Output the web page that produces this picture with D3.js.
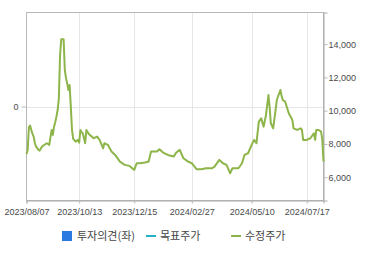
<!DOCTYPE html>
<html>
<head>
<meta charset="utf-8">
<script src="https://cdn.jsdelivr.net/npm/d3@7"></script>
<style>
  body { margin: 0; background: #fff; }
  svg text { font-family: "Liberation Sans", Arial, sans-serif; }
</style>
</head>
<body>
<div id="chart"></div>
<script>
// trading-day index (0 = 2023/08/07) and adjusted price
const dayIdx = [0, 1, 2, 3, 4, 5, 6, 7, 8, 10, 11, 13, 15, 17, 18, 19, 21, 22, 23, 24, 25, 26, 27, 28, 29, 30, 31,
  32, 33, 34, 35, 36, 37, 38, 39, 41, 43, 44, 45, 46, 47, 49, 50, 52, 53, 56, 59, 61, 64, 65, 68, 71, 74, 78,
  82, 86, 90, 92, 95, 99, 102, 104, 109, 111, 114, 118, 123, 125, 128, 131, 135, 138, 142, 146, 150, 155, 157,
  161, 164, 167, 170, 172, 177, 180, 182, 185, 188, 190, 192, 194, 196, 198, 200, 202, 203, 204, 206, 208, 209,
  212, 213, 214, 216, 219, 222, 223, 226, 229, 230, 231, 234, 237, 240, 241, 242, 244, 246, 247, 248];
const price = [7400, 7640, 9000, 9100, 8840, 8600, 8440, 8040, 7840, 7640, 7600, 7840, 7950, 8040, 8000, 7940,
  8840, 8540, 9040, 9300, 9640, 10040, 10700, 13300, 14290, 14290, 14290,
  12440, 11950, 11640, 11240, 11540, 10240, 8840, 8300, 8140, 8240, 8080, 8840, 8700, 8640, 8040, 8840, 8600,
  8540, 8340, 8440, 8240, 7740, 8040, 7940, 7540, 7340, 6940,
  6740, 6680, 6440, 6840, 6840, 6880, 6940, 7540, 7540, 7680, 7480, 7340, 7240, 7480, 7640, 7140, 6940, 6840,
  6480, 6480, 6540, 6540, 6640,
  7040, 6840, 6740, 6240, 6540, 6540, 6840, 7340, 7440, 7940, 8240, 8040, 9340, 9540, 9040, 9740, 10940, 10240,
  9240, 8940, 10040, 10640,
  11240, 10900, 10640, 10540, 9840, 9440, 8940, 8840, 8940, 8840, 8240, 8240, 8340, 8640, 8240, 8840, 8840,
  8740, 8240, 6940];

const tickIdx = [0, 44, 90, 138, 188, 234];
const tickLabels = ["2023/08/07", "2023/10/13", "2023/12/15", "2024/02/27", "2024/05/10", "2024/07/17"];
const priceTicks = [6000, 8000, 10000, 12000, 14000];
const opinionTicks = [0];
const legendItems = ["투자의견(좌)", "목표주가", "수정주가"];
const legendColors = ["#2a7ae2", "#22b1c6", "#8db54a"];

const W = 370, H = 255;
const plotL = 26.5, plotR = 323.5, plotT = 12.5, plotB = 200.5;

const svg = d3.select("#chart").append("svg")
  .attr("width", W)
  .attr("height", H);

const x = d3.scaleLinear().domain([0, 248]).range([plotL, plotR]);
const yR = d3.scaleLinear().domain([4600, 15900]).range([plotB, plotT]);
const yL = d3.scaleLinear().domain([-1, 1]).range([plotB, plotT]);

// grid lines
svg.append("g").selectAll("line")
  .data(tickIdx.slice(1))
  .enter().append("line")
  .attr("x1", d => Math.round(x(d)) + 0.5)
  .attr("x2", d => Math.round(x(d)) + 0.5)
  .attr("y1", plotT)
  .attr("y2", plotB + 3)
  .attr("stroke", "#e6e6e6");

svg.append("g").selectAll("line")
  .data(opinionTicks)
  .enter().append("line")
  .attr("x1", plotL)
  .attr("x2", plotR)
  .attr("y1", d => Math.round(yL(d)) + 0.5)
  .attr("y2", d => Math.round(yL(d)) + 0.5)
  .attr("stroke", "#e6e6e6");

// frame
svg.append("rect")
  .attr("x", plotL).attr("y", plotT)
  .attr("width", plotR - plotL).attr("height", plotB - plotT)
  .attr("fill", "none")
  .attr("stroke", "#b8b8b8");

// left axis
const axL = svg.append("g")
  .attr("transform", `translate(${plotL},0)`)
  .call(d3.axisLeft(yL).tickValues(opinionTicks).tickFormat(d3.format("d")).tickSize(5).tickPadding(3));
axL.select(".domain").remove();

// right axis
const axR = svg.append("g")
  .attr("transform", `translate(${plotR},0)`)
  .call(d3.axisRight(yR).tickValues(priceTicks).tickFormat(d3.format(",")).tickSize(4).tickPadding(1));
axR.select(".domain").attr("stroke", "#aaa");

// bottom axis
const axB = svg.append("g")
  .attr("transform", `translate(0,${plotB})`)
  .call(d3.axisBottom(x).tickValues(tickIdx).tickFormat((d, i) => tickLabels[i]).tickSize(3).tickPadding(5));
axB.select(".domain").attr("stroke", "#aaa");

[axL, axR, axB].forEach(ax => {
  ax.selectAll(".tick line").attr("stroke", "#bbb");
  ax.selectAll("text")
    .attr("fill", "#4a4a4a")
    .style("font-size", "9px")
    .style("font-family", "'Liberation Sans', Arial, sans-serif");
});

// price line
const line = d3.line()
  .x((d, i) => x(dayIdx[i]))
  .y(d => yR(d));

svg.append("path")
  .datum(price)
  .attr("d", line)
  .attr("fill", "none")
  .attr("stroke", "#8db54a")
  .attr("stroke-width", 2)
  .attr("stroke-linejoin", "round");

// legend
const lg = svg.append("g").attr("transform", "translate(0,236)");
const legendX = [62, 146, 231];

lg.append("rect")
  .attr("x", legendX[0]).attr("y", -5)
  .attr("width", 10).attr("height", 10)
  .attr("fill", legendColors[0]);

[1, 2].forEach(i => {
  lg.append("line")
    .attr("x1", legendX[i]).attr("x2", legendX[i] + 10)
    .attr("y1", 0).attr("y2", 0)
    .attr("stroke", legendColors[i])
    .attr("stroke-width", 2);
});

lg.selectAll("text")
  .data(legendItems)
  .enter().append("text")
  .attr("x", (d, i) => legendX[i] + (i === 0 ? 15 : 14))
  .attr("y", 4)
  .attr("fill", "#444")
  .style("font-size", "11px")
  .style("font-family", "'Noto Sans CJK KR', sans-serif")
  .text(d => d);
</script>
</body>
</html>
